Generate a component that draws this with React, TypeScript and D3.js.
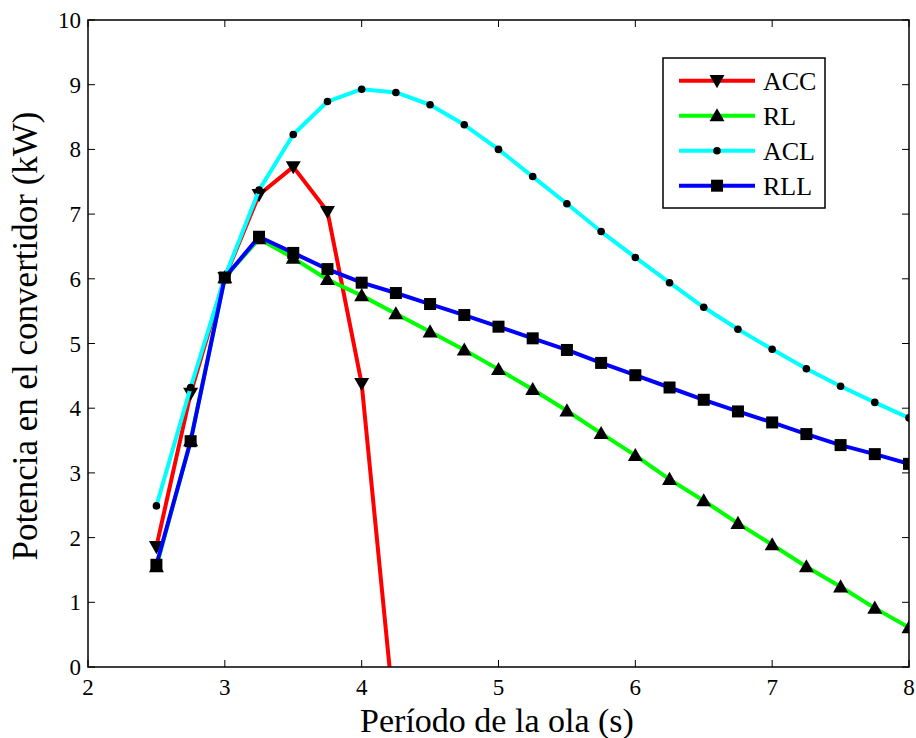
import React from "react";
import * as d3 from "d3";

// wave period (s)
const periods = [2.5, 2.75, 3, 3.25, 3.5, 3.75, 4, 4.25, 4.5, 4.75, 5, 5.25, 5.5, 5.75, 6, 6.25, 6.5, 6.75, 7, 7.25, 7.5, 7.75, 8];

// power in the converter (kW)
const acc = [1.86, 4.23, 6.02, 7.3, 7.73, 7.04, 4.38, -1.0];
const rl = [1.55, 3.5, 6.02, 6.62, 6.32, 5.99, 5.74, 5.46, 5.18, 4.9, 4.6, 4.29, 3.96, 3.61, 3.27, 2.9, 2.57, 2.22, 1.89, 1.55, 1.24, 0.91, 0.61];
const acl = [2.49, 4.32, 6.03, 7.37, 8.23, 8.74, 8.93, 8.88, 8.69, 8.38, 8.0, 7.58, 7.16, 6.73, 6.33, 5.94, 5.56, 5.22, 4.91, 4.61, 4.34, 4.09, 3.85];
const rll = [1.58, 3.49, 6.02, 6.65, 6.4, 6.15, 5.94, 5.78, 5.61, 5.44, 5.26, 5.08, 4.9, 4.7, 4.51, 4.32, 4.13, 3.95, 3.78, 3.6, 3.43, 3.29, 3.14];

const xTicks = [2, 3, 4, 5, 6, 7, 8];
const yTicks = [0, 1, 2, 3, 4, 5, 6, 7, 8, 9, 10];

const series = [
  { name: "ACC", values: acc, color: "#ff0000", marker: "down" },
  { name: "RL", values: rl, color: "#00ff00", marker: "up" },
  { name: "ACL", values: acl, color: "#00ffff", marker: "dot" },
  { name: "RLL", values: rll, color: "#0000ff", marker: "square" },
];

const width = 916;
const height = 738;
const margin = { top: 20, right: 7, bottom: 71, left: 88 };
const font = "'Liberation Serif', 'Times New Roman', serif";

const x = d3.scaleLinear().domain([2, 8]).range([margin.left, width - margin.right]);
const y = d3.scaleLinear().domain([0, 10]).range([height - margin.bottom, margin.top]);

const Marker = ({ type, cx, cy }: { type: string; cx: number; cy: number }) => {
  if (type === "dot") return <circle cx={cx} cy={cy} r={3.8} fill="black" />;
  if (type === "square") return <rect x={cx - 6} y={cy - 6} width={12} height={12} fill="black" />;
  const s = 7.5;
  if (type === "up")
    return <path d={`M${cx},${cy - s}L${cx + s},${cy + s * 0.75}L${cx - s},${cy + s * 0.75}Z`} fill="black" />;
  return <path d={`M${cx},${cy + s}L${cx + s},${cy - s * 0.75}L${cx - s},${cy - s * 0.75}Z`} fill="black" />;
};

export default function App() {
  const line = d3
    .line<[number, number]>()
    .x((d) => x(d[0]))
    .y((d) => y(d[1]));

  const x0 = margin.left;
  const x1 = width - margin.right;
  const y0 = height - margin.bottom;
  const y1 = margin.top;
  const tick = 7;

  const legend = { x: 663, y: 58, w: 162, h: 150 };

  return (
    <svg
      width={width}
      height={height}
      style={{ display: "block", position: "absolute", left: 0, top: 0, fontFamily: font }}
    >
      <rect width={width} height={height} fill="white" />
      <defs>
        <clipPath id="plot">
          <rect x={x0} y={y1} width={x1 - x0} height={y0 - y1} />
        </clipPath>
      </defs>

      <g clipPath="url(#plot)">
        {series.map((s) => {
          const pts = s.values.map((v, i) => [periods[i], v] as [number, number]);
          return (
            <g key={s.name}>
              <path d={line(pts) || ""} fill="none" stroke={s.color} strokeWidth={4} strokeLinejoin="round" />
              {pts.map((p, i) => (
                <Marker key={i} type={s.marker} cx={x(p[0])} cy={y(p[1])} />
              ))}
            </g>
          );
        })}
      </g>

      {/* axes box */}
      <rect x={x0} y={y1} width={x1 - x0} height={y0 - y1} fill="none" stroke="black" strokeWidth={1.5} />
      {xTicks.map((t) => (
        <g key={"x" + t}>
          <line x1={x(t)} x2={x(t)} y1={y0} y2={y0 - tick} stroke="black" />
          <line x1={x(t)} x2={x(t)} y1={y1} y2={y1 + tick} stroke="black" />
          <text x={x(t)} y={y0 + 28} textAnchor="middle" style={{ fontFamily: font }} fontSize={23}>
            {t}
          </text>
        </g>
      ))}
      {yTicks.map((t) => (
        <g key={"y" + t}>
          <line x1={x0} x2={x0 + tick} y1={y(t)} y2={y(t)} stroke="black" />
          <line x1={x1} x2={x1 - tick} y1={y(t)} y2={y(t)} stroke="black" />
          <text x={x0 - 7} y={y(t) + 8} textAnchor="end" style={{ fontFamily: font }} fontSize={23}>
            {t}
          </text>
        </g>
      ))}

      <text x={497} y={732} textAnchor="middle" style={{ fontFamily: font }} fontSize={34}>
        Período de la ola (s)
      </text>
      <text
        transform="translate(37,336) rotate(-90)"
        textAnchor="middle"
        style={{ fontFamily: font }}
        fontSize={35}
      >
        Potencia en el convertidor (kW)
      </text>

      {/* legend */}
      <rect x={legend.x} y={legend.y} width={legend.w} height={legend.h} fill="white" stroke="black" strokeWidth={1.5} />
      {series.map((s, i) => {
        const ly = 80.7 + i * 35;
        return (
          <g key={"l" + s.name}>
            <line x1={679} x2={755} y1={ly} y2={ly} stroke={s.color} strokeWidth={4} />
            <Marker type={s.marker} cx={717} cy={ly} />
            <text x={763} y={ly + 9} style={{ fontFamily: font }} fontSize={26}>
              {s.name}
            </text>
          </g>
        );
      })}
    </svg>
  );
}
